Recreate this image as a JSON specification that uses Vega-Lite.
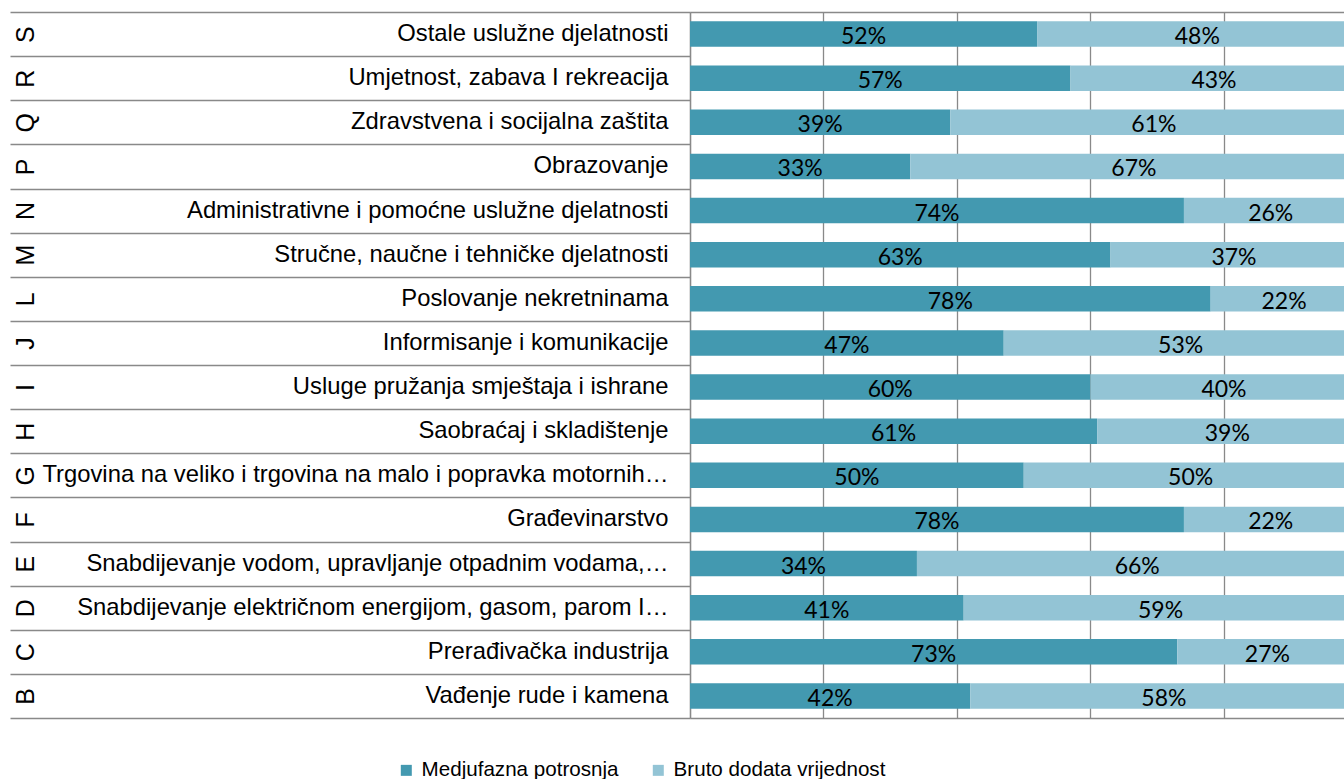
{
  "$schema": "https://vega.github.io/schema/vega-lite/v6.json",
  "autosize": {"type": "none"},
  "padding": {"left": 690, "top": 12, "right": 0, "bottom": 61},
  "width": 654,
  "height": 706,
  "background": "white",
  "config": {"view": {"stroke": null}, "font": "Liberation Sans"},
  "data": {"values": [
    {"code": "S", "name": "Ostale uslužne djelatnosti", "series": "Medjufazna potrosnja", "value": 52, "label": "52%"},
    {"code": "S", "name": "Ostale uslužne djelatnosti", "series": "Bruto dodata vrijednost", "value": 48, "label": "48%"},
    {"code": "R", "name": "Umjetnost, zabava I rekreacija", "series": "Medjufazna potrosnja", "value": 57, "label": "57%"},
    {"code": "R", "name": "Umjetnost, zabava I rekreacija", "series": "Bruto dodata vrijednost", "value": 43, "label": "43%"},
    {"code": "Q", "name": "Zdravstvena i socijalna zaštita", "series": "Medjufazna potrosnja", "value": 39, "label": "39%"},
    {"code": "Q", "name": "Zdravstvena i socijalna zaštita", "series": "Bruto dodata vrijednost", "value": 61, "label": "61%"},
    {"code": "P", "name": "Obrazovanje", "series": "Medjufazna potrosnja", "value": 33, "label": "33%"},
    {"code": "P", "name": "Obrazovanje", "series": "Bruto dodata vrijednost", "value": 67, "label": "67%"},
    {"code": "N", "name": "Administrativne i pomoćne uslužne djelatnosti", "series": "Medjufazna potrosnja", "value": 74, "label": "74%"},
    {"code": "N", "name": "Administrativne i pomoćne uslužne djelatnosti", "series": "Bruto dodata vrijednost", "value": 26, "label": "26%"},
    {"code": "M", "name": "Stručne, naučne i tehničke djelatnosti", "series": "Medjufazna potrosnja", "value": 63, "label": "63%"},
    {"code": "M", "name": "Stručne, naučne i tehničke djelatnosti", "series": "Bruto dodata vrijednost", "value": 37, "label": "37%"},
    {"code": "L", "name": "Poslovanje nekretninama", "series": "Medjufazna potrosnja", "value": 78, "label": "78%"},
    {"code": "L", "name": "Poslovanje nekretninama", "series": "Bruto dodata vrijednost", "value": 22, "label": "22%"},
    {"code": "J", "name": "Informisanje i komunikacije", "series": "Medjufazna potrosnja", "value": 47, "label": "47%"},
    {"code": "J", "name": "Informisanje i komunikacije", "series": "Bruto dodata vrijednost", "value": 53, "label": "53%"},
    {"code": "I", "name": "Usluge pružanja smještaja i ishrane", "series": "Medjufazna potrosnja", "value": 60, "label": "60%"},
    {"code": "I", "name": "Usluge pružanja smještaja i ishrane", "series": "Bruto dodata vrijednost", "value": 40, "label": "40%"},
    {"code": "H", "name": "Saobraćaj i skladištenje", "series": "Medjufazna potrosnja", "value": 61, "label": "61%"},
    {"code": "H", "name": "Saobraćaj i skladištenje", "series": "Bruto dodata vrijednost", "value": 39, "label": "39%"},
    {"code": "G", "name": "Trgovina na veliko i trgovina na malo i popravka motornih…", "series": "Medjufazna potrosnja", "value": 50, "label": "50%"},
    {"code": "G", "name": "Trgovina na veliko i trgovina na malo i popravka motornih…", "series": "Bruto dodata vrijednost", "value": 50, "label": "50%"},
    {"code": "F", "name": "Građevinarstvo", "series": "Medjufazna potrosnja", "value": 74, "label": "78%"},
    {"code": "F", "name": "Građevinarstvo", "series": "Bruto dodata vrijednost", "value": 26, "label": "22%"},
    {"code": "E", "name": "Snabdijevanje vodom, upravljanje otpadnim vodama,…", "series": "Medjufazna potrosnja", "value": 34, "label": "34%"},
    {"code": "E", "name": "Snabdijevanje vodom, upravljanje otpadnim vodama,…", "series": "Bruto dodata vrijednost", "value": 66, "label": "66%"},
    {"code": "D", "name": "Snabdijevanje električnom energijom, gasom, parom I…", "series": "Medjufazna potrosnja", "value": 41, "label": "41%"},
    {"code": "D", "name": "Snabdijevanje električnom energijom, gasom, parom I…", "series": "Bruto dodata vrijednost", "value": 59, "label": "59%"},
    {"code": "C", "name": "Prerađivačka industrija", "series": "Medjufazna potrosnja", "value": 73, "label": "73%"},
    {"code": "C", "name": "Prerađivačka industrija", "series": "Bruto dodata vrijednost", "value": 27, "label": "27%"},
    {"code": "B", "name": "Vađenje rude i kamena", "series": "Medjufazna potrosnja", "value": 42, "label": "42%"},
    {"code": "B", "name": "Vađenje rude i kamena", "series": "Bruto dodata vrijednost", "value": 58, "label": "58%"}
  ]},
  "layer": [
    {
      "mark": {"type": "bar", "clip": true, "height": {"band": 0.58}},
      "encoding": {
        "y": {
          "field": "name", "type": "nominal",
          "sort": ["Ostale uslužne djelatnosti", "Umjetnost, zabava I rekreacija", "Zdravstvena i socijalna zaštita", "Obrazovanje", "Administrativne i pomoćne uslužne djelatnosti", "Stručne, naučne i tehničke djelatnosti", "Poslovanje nekretninama", "Informisanje i komunikacije", "Usluge pružanja smještaja i ishrane", "Saobraćaj i skladištenje", "Trgovina na veliko i trgovina na malo i popravka motornih…", "Građevinarstvo", "Snabdijevanje vodom, upravljanje otpadnim vodama,…", "Snabdijevanje električnom energijom, gasom, parom I…", "Prerađivačka industrija", "Vađenje rude i kamena"],
          "scale": {"paddingInner": 0, "paddingOuter": 0},
          "axis": {"orient": "left", "title": null, "ticks": false, "tickSize": 0, "domain": true, "domainColor": "#898989", "domainWidth": 1.3, "grid": false, "labelFont": "Liberation Sans", "labelFontSize": 23.8, "labelColor": "#000000", "labelPadding": 22, "labelLimit": 800}
        },
        "x": {
          "field": "value", "type": "quantitative", "stack": "zero",
          "scale": {"domain": [0, 97.98], "nice": false},
          "axis": {"orient": "bottom", "title": null, "labels": false, "ticks": false, "domain": true, "domainColor": "#898989", "domainWidth": 1.3, "grid": true, "gridColor": "#898989", "gridWidth": 1.3, "values": [0, 20, 40, 60, 80]}
        },
        "color": {
          "field": "series", "type": "nominal",
          "scale": {"domain": ["Medjufazna potrosnja", "Bruto dodata vrijednost"], "range": ["#4399B0", "#93C4D5"]},
          "legend": {"orient": "none", "legendX": -294, "legendY": 748, "direction": "horizontal", "title": null, "symbolType": "square", "symbolSize": 121, "symbolStrokeWidth": 0, "labelFont": "Liberation Sans", "labelFontSize": 20.6, "labelColor": "#000000", "labelOffset": 5, "columnPadding": 29, "labelLimit": 400}
        },
        "order": {"field": "series", "sort": "descending"}
      }
    },
    {
      "transform": [
        {"stack": "value", "groupby": ["name"], "sort": [{"field": "series", "order": "descending"}], "as": ["v0", "v1"]},
        {"fold": ["v0", "v1"], "as": ["k", "pos"]},
        {"aggregate": [{"op": "mean", "field": "pos", "as": "mid"}], "groupby": ["name", "code", "series", "label"]}
      ],
      "mark": {"type": "text", "font": "Lato", "fontSize": 23, "color": "#000000", "baseline": "middle", "dy": 3},
      "encoding": {
        "y": {
          "field": "code", "type": "nominal",
          "sort": ["S", "R", "Q", "P", "N", "M", "L", "J", "I", "H", "G", "F", "E", "D", "C", "B"],
          "scale": {"paddingInner": 0, "paddingOuter": 0},
          "axis": {"orient": "left", "title": null, "domain": false, "grid": false, "ticks": true, "tickBand": "extent", "tickSize": 680, "tickColor": "#898989", "tickWidth": 1.3, "labelAngle": 270, "labelAlign": "center", "labelBaseline": "middle", "labelFont": "Liberation Sans", "labelFontSize": 25, "labelColor": "#000000", "labelPadding": -15}
        },
        "x": {
          "field": "mid", "type": "quantitative",
          "scale": {"domain": [0, 97.98], "nice": false},
          "axis": {"orient": "top", "title": null, "labels": false, "ticks": false, "grid": false, "domain": true, "domainColor": "#898989", "domainWidth": 1.3}
        },
        "text": {"field": "label"}
      }
    }
  ],
  "resolve": {"scale": {"y": "independent"}, "axis": {"x": "independent", "y": "independent"}}
}
